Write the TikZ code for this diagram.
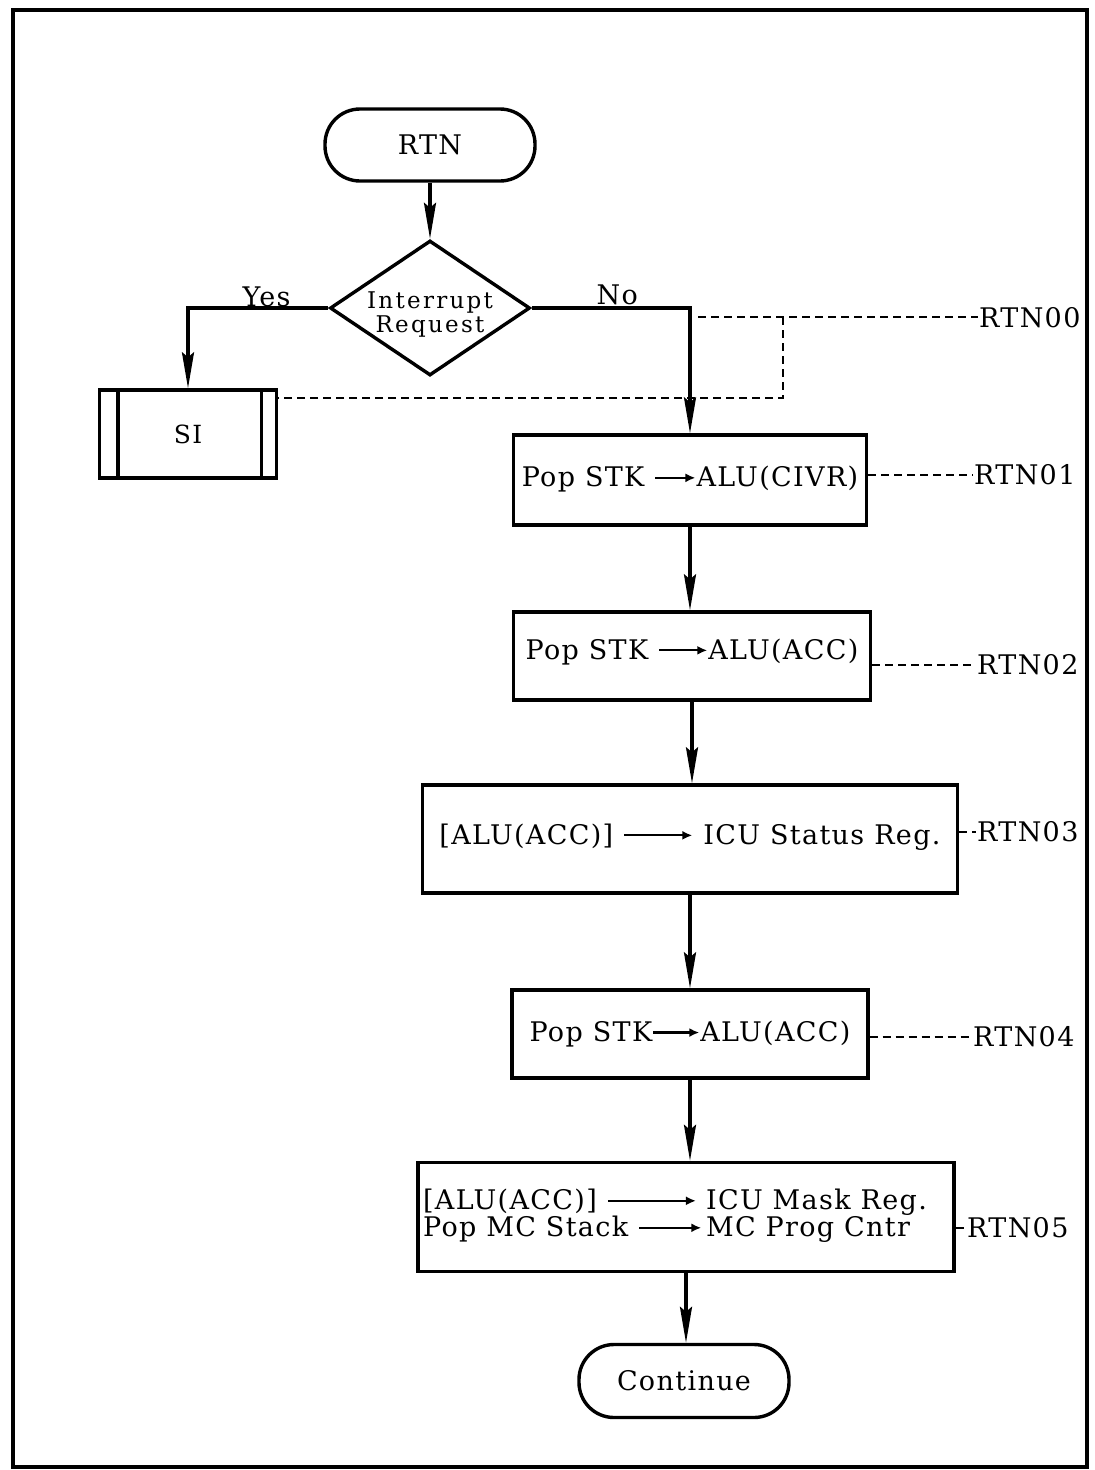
\documentclass[tikz,border=0pt]{standalone}
\usepackage{fontspec}
\setmainfont{DejaVu Serif}[LetterSpace=5]
\usetikzlibrary{shapes.geometric,arrows.meta}
\newcommand{\txtarrow}[1]{\tikz[baseline=-0.33em,x=1pt,y=1pt]\draw[line width=2.2pt,-{Latex[length=10pt,width=9pt]}] (0,0) -- (#1,0);}
\begin{document}
\begin{tikzpicture}[x=1pt,y=-1pt,
  every node/.style={font=\fontsize{27}{31}\selectfont},
  boxline/.style={line width=3.4pt},
  pbox/.style={draw,boxline,inner sep=2pt},
  term/.style={draw,boxline,rounded corners=35pt,minimum width=210pt,minimum height=72pt},
  dia/.style={draw,boxline,diamond,minimum width=200pt,minimum height=135pt,inner sep=0pt,font=\fontsize{23}{27}\selectfont\addfontfeature{LetterSpace=10}},
  arr/.style={boxline,-{Stealth[length=36pt,width=12pt,inset=5pt]}},
  lead/.style={line width=2.8pt,dash pattern=on 8pt off 5pt},
  tag/.style={anchor=west,inner sep=1pt},
  lbl/.style={font=\fontsize{27}{30}\selectfont}
]
\useasboundingbox (0,0) rectangle (1095,1470);
\draw[line width=3.6pt] (13,10) rectangle (1087,1467);

\node[term] (rtn) at (430,145) {RTN};
\node[dia] (dec) at (430,308) {\makebox[0pt]{\smash{\raisebox{-13pt}{\begin{tabular}{@{}c@{}}Interrupt\\[-3pt]Request\end{tabular}}}}};
\node[pbox,minimum width=177pt,minimum height=88pt,font=\fontsize{25}{28}\selectfont] (si) at (188,434) {SI};
\draw[boxline] ([xshift=20pt]si.north west) -- ([xshift=20pt]si.south west);
\draw[boxline] ([xshift=-17pt]si.north east) -- ([xshift=-17pt]si.south east);

\node[pbox,minimum width=353pt,minimum height=90pt,inner sep=0pt] (b1) at (690,480) {\raisebox{7pt}{Pop STK \txtarrow{40}ALU(CIVR)}};
\node[pbox,minimum width=357pt,minimum height=88pt,inner sep=0pt] (b2) at (692,656) {\raisebox{14pt}{Pop STK \txtarrow{48}ALU(ACC)}};
\node[pbox,minimum width=535pt,minimum height=108pt,inner sep=0pt] (b3) at (690,839) {\raisebox{10pt}{[ALU(ACC)] \txtarrow{68} ICU Status Reg.}};
\node[pbox,minimum width=356pt,minimum height=88pt,inner sep=0pt] (b4) at (690,1034) {\raisebox{-2pt}{Pop STK\txtarrow{46}ALU(ACC)}};
\node[pbox,minimum width=536pt,minimum height=109pt,inner sep=0pt] (b5) at (686,1217) {\raisebox{13pt}{\begin{tabular}{@{}l@{}l@{}}[ALU(ACC)] \hfill\txtarrow{88}\,\, & ICU Mask Reg.\\[-4pt] Pop MC Stack \txtarrow{62}& MC Prog Cntr\end{tabular}}\hspace*{22pt}};
\node[term,minimum height=73pt] (cont) at (684,1381) {Continue};

\draw[arr] (rtn) -- (dec);
\draw[arr] (dec.west) -| node[pos=0.22,above,lbl,yshift=-4pt] {Yes} (si.north);
\draw[arr] (dec.east) -| node[pos=0.27,above,lbl,yshift=-2pt] {No} (b1.north);
\draw[arr] (b1.south) -- (b1.south |- b2.north);
\draw[arr] (b2.south) -- (b2.south |- b3.north);
\draw[arr] (b3) -- (b4);
\draw[arr] (b4.south) -- (b4.south |- b5.north);
\draw[arr] (b5.south) -- (b5.south |- cont.north);

\node[tag] (t0) at (978,318) {RTN00};
\node[tag] (t1) at (973,475) {RTN01};
\node[tag] (t2) at (976,665) {RTN02};
\node[tag] (t3) at (976,832) {RTN03};
\node[tag] (t4) at (972,1037) {RTN04};
\node[tag] (t5) at (966,1228) {RTN05};

\coordinate (d0) at (698,317);
\coordinate (d1) at (783,317);
\coordinate (d2) at (783,398);
\draw[lead] (d0) -- (t0.west |- d0);
\draw[lead] (d1) -- (d2) -- (si.east |- d2);
\draw[lead] (b1.east |- t1) -- (t1.west);
\draw[lead] (b2.east |- t2) -- (t2.west);
\draw[lead] (b3.east |- t3) -- (t3.west);
\draw[lead] (b4.east |- t4) -- (t4.west);
\draw[lead] (b5.east |- t5) -- (t5.west);
\end{tikzpicture}
\end{document}
